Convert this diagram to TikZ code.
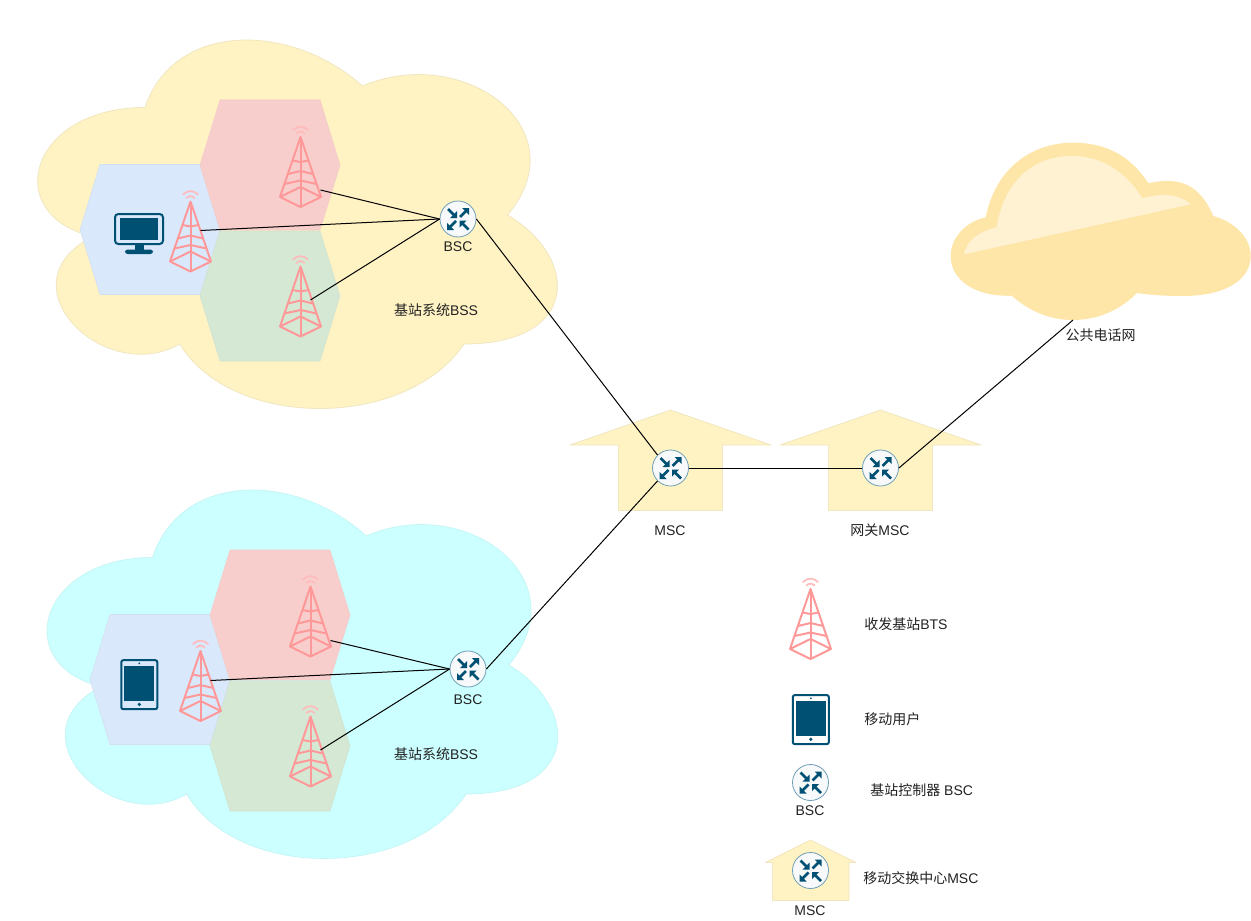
\documentclass[tikz,border=0pt]{standalone}
\usepackage{fontspec}
\setmainfont{Liberation Sans}
\newfontfamily\cjk{Noto Sans CJK SC}
\definecolor{cloudY}{HTML}{FFF3C4}
\definecolor{cloudYs}{HTML}{F0E7C0}
\definecolor{cloudC}{HTML}{CCFFFF}
\definecolor{cloudCs}{HTML}{C6F6F6}
\definecolor{hexP}{HTML}{F8CECC}
\definecolor{hexG}{HTML}{D5E8D4}
\definecolor{hexB}{HTML}{DAE8FC}
\definecolor{towerC}{HTML}{FF9999}
\definecolor{towerA}{HTML}{FFBBBB}
\definecolor{iconC}{HTML}{005073}
\definecolor{routerS}{HTML}{6F9FB5}
\definecolor{routerF}{HTML}{F7F9FB}
\definecolor{sunO}{HTML}{FEE6A9}
\definecolor{sunI}{HTML}{FFF2D3}
\definecolor{txt}{HTML}{222222}
\tikzset{
  bsscloud/.style={line width=0.6pt},
  hexcell/.style={line width=0.4pt},
  houseshape/.style={fill=cloudY,draw=cloudYs,line width=0.6pt,line join=bevel},
  towerline/.style={draw=towerC,line width=1.5pt,line join=round},
  wire/.style={draw=black,line width=0.75pt},
  routernode/.style={circle,minimum size=27pt,inner sep=0pt,draw=routerS,fill=routerF,line width=0.6pt},
  lbl/.style={text=txt,font=\fontsize{10.5}{12}\selectfont,inner sep=0pt},
  btstower/.pic={
    \draw[towerline] (-20.5,60) -- (0,0) -- (20.5,60) -- (0,70) -- cycle;
    \draw[towerline] (0,0) -- (0,70);
    \draw[towerline] (-20.5,60) -- (0,50) -- (20.5,60);
    \draw[towerline] (-8,23.5) -- (0,25) -- (8,23.5);
    \draw[towerline] (-12.6,37) -- (0,34) -- (12.6,37);
    \draw[towerline] (-16,47) -- (0,43.5) -- (16,47);
    \draw[draw=towerA,line width=1.3pt,line cap=round] (-7.5,-7) .. controls (-3,-11.5) and (3,-11.5) .. (7.5,-7);
    \draw[draw=towerA,line width=1.3pt,line cap=round] (-4,-3.5) .. controls (-1.5,-6) and (1.5,-6) .. (4,-3.5);
  },
  routerarrows/.pic={
    \draw[iconC,line width=1.9pt] (-10,-10) -- (-4,-4);
    \fill[iconC] (-1,-1) -- (-8,-1) -- (-1,-8) -- cycle;
    \draw[iconC,line width=1.9pt] (2,-2) -- (8,-8);
    \fill[iconC] (11,-11) -- (4,-11) -- (11,-4) -- cycle;
    \draw[iconC,line width=1.9pt] (-2,2) -- (-8,8);
    \fill[iconC] (-11,11) -- (-4,11) -- (-11,4) -- cycle;
    \draw[iconC,line width=1.9pt] (10.5,10.5) -- (4.5,4.5);
    \fill[iconC] (1.5,1.5) -- (8.5,1.5) -- (1.5,8.5) -- cycle;
  },
  tableticon/.pic={
    \draw[iconC,line width=1.5pt,rounded corners=1.5pt] (-18,-24.5) rectangle (18,24.5);
    \fill[iconC] (-15,-18.5) rectangle (15,16);
    \fill[iconC] (0,-21.3) circle (1);
    \fill[iconC] (0,19.7) circle (1.8);
  },
  screenicon/.pic={
    \draw[iconC,line width=1.5pt,rounded corners=2.5pt] (-24,-15) rectangle (24,15);
    \fill[iconC] (-19.5,-11) rectangle (19,10.5);
    \fill[iconC] (-4.5,15) rectangle (4.5,21);
    \fill[iconC,rounded corners=2pt] (-14,20.5) rectangle (14,25);
  }
}
\newcommand{\cloudpath}{(0.25,0.25) .. controls (0.05,0.25) and (0,0.5) .. (0.16,0.55)
  .. controls (0,0.66) and (0.18,0.9) .. (0.31,0.8)
  .. controls (0.4,1) and (0.7,1) .. (0.8,0.8)
  .. controls (1,0.8) and (1,0.6) .. (0.875,0.5)
  .. controls (1,0.3) and (0.8,0.1) .. (0.625,0.2)
  .. controls (0.5,0.05) and (0.3,0.05) .. (0.25,0.25) -- cycle}
\newcommand{\hexpath}{(0,65) -- (20,0) -- (120,0) -- (140,65) -- (120,130) -- (20,130) -- cycle}
\begin{document}
\begin{tikzpicture}[x=0.75pt,y=-0.75pt]
\useasboundingbox (0,0) rectangle (1251,920);
\fill[white] (0,0) rectangle (1251,920);
% BSS clouds
\draw[bsscloud,fill=cloudY,draw=cloudYs,shift={(0,0)},xscale=580,yscale=430] \cloudpath;
\draw[bsscloud,fill=cloudC,draw=cloudCs,shift={(10,450)},xscale=570,yscale=430] \cloudpath;
% hexagons, cloud 1
\draw[hexcell,fill=hexB,draw=hexB!96!black,shift={(80,164.5)}] \hexpath;
\draw[hexcell,fill=hexP,draw=hexP!98!black,shift={(200,100)}] \hexpath;
\draw[hexcell,fill=hexG,draw=hexG!98!black,shift={(200,231)}] \hexpath;
% hexagons, cloud 2
\draw[hexcell,fill=hexB,draw=hexB!96!black,shift={(90,614.5)}] \hexpath;
\draw[hexcell,fill=hexP,draw=hexP!98!black,shift={(210,550)}] \hexpath;
\draw[hexcell,fill=hexG,draw=hexG!98!black,shift={(210,681)}] \hexpath;
% houses
\draw[houseshape] (670.5,410) -- (771,445) -- (722.5,445) -- (722.5,510.5) -- (618.5,510.5) -- (618.5,445) -- (570,445) -- cycle;
\draw[houseshape] (880.5,410) -- (981,445) -- (932.5,445) -- (932.5,510.5) -- (828.5,510.5) -- (828.5,445) -- (780,445) -- cycle;
\draw[houseshape] (810.5,840) -- (856,862.5) -- (849,862.5) -- (849,900.5) -- (772.5,900.5) -- (772.5,862.5) -- (765.5,862.5) -- cycle;
% telephone cloud
\fill[sunO] (985.7,217.3) .. controls (995,170) and (1030,142.7) .. (1073.3,142.7)
 .. controls (1105,142.7) and (1130,155) .. (1148.3,183.3)
 .. controls (1180,176) and (1200,185) .. (1213.3,216)
 .. controls (1235,222) and (1250.7,238) .. (1250.7,256)
 .. controls (1250.7,280) and (1225,296) .. (1183,296)
 .. controls (1165,296) and (1150,295) .. (1137,293)
 .. controls (1120,310) and (1098,320) .. (1073,320)
 .. controls (1048,320) and (1028,310) .. (1011.7,295.7)
 .. controls (975,297) and (950.7,280) .. (950.7,256)
 .. controls (950.7,238) and (965,222) .. (985.7,217.3) -- cycle;
\fill[sunI] (996.7,227.3) .. controls (1003,185) and (1030,156) .. (1071.7,156)
 .. controls (1100,156) and (1125,170) .. (1142.3,198.3)
 .. controls (1165,192) and (1180,195) .. (1190.7,204.3)
 -- (964,254.3) .. controls (967,240) and (978,232) .. (996.7,227.3) -- cycle;
% towers
\pic at (300.5,137) {btstower};
\pic at (190.5,201.5) {btstower};
\pic at (300.5,266.5) {btstower};
\pic at (310.5,586.5) {btstower};
\pic at (200.5,651) {btstower};
\pic at (310.5,716.5) {btstower};
\pic at (810.5,589) {btstower};
% user icons
\pic at (139,229) {screenicon};
\pic at (139.3,684.7) {tableticon};
\pic at (810.8,719.6) {tableticon};
% connector ends
\coordinate (pinkA) at (320.5,190);
\coordinate (blueA) at (200.5,230.5);
\coordinate (greenA) at (310.5,300);
\coordinate (pinkB) at (330.5,640.5);
\coordinate (blueB) at (210.5,680.5);
\coordinate (greenB) at (320.5,750);
\coordinate (pstn) at (1073,320);
% routers
\node[routernode] (bscA) at (458,219) {};
\node[routernode] (bscB) at (468,669) {};
\node[routernode] (msc) at (670.5,468) {};
\node[routernode] (gmsc) at (880.5,468) {};
\node[routernode] (bscL) at (810.5,782.5) {};
\node[routernode] (mscL) at (810.5,870.5) {};
\foreach \r in {bscA,bscB,msc,gmsc,bscL,mscL} \pic at (\r) {routerarrows};
% connectors
\draw[wire] (pinkA) -- (bscA.west);
\draw[wire] (blueA) -- (bscA.west);
\draw[wire] (greenA) -- (bscA.west);
\draw[wire] (pinkB) -- (bscB.west);
\draw[wire] (blueB) -- (bscB.west);
\draw[wire] (greenB) -- (bscB.west);
\draw[wire] (bscA.east) -- (msc.north west);
\draw[wire] (bscB.east) -- (msc.south west);
\draw[wire] (msc.east) -- (gmsc.west);
\draw[wire] (gmsc.east) -- (pstn);
% labels
\node[lbl] (t1) at (436,310) {{\cjk 基站系统}BSS};
\node[lbl] (t2) at (436,754) {{\cjk 基站系统}BSS};
\node[lbl] (t3) at (458,246.5) {BSC};
\node[lbl] (t4) at (468,699.5) {BSC};
\node[lbl] (t5) at (670,530.5) {MSC};
\node[lbl] (t6) at (880,530.5) {{\cjk 网关}MSC};
\node[lbl] (t7) at (1100.5,335) {\cjk 公共电话网};
\node[lbl,anchor=west] (t8) at (864,624) {{\cjk 收发基站}BTS};
\node[lbl,anchor=west] (t9) at (864,719) {\cjk 移动用户};
\node[lbl,anchor=west] (t10) at (870,790) {{\cjk 基站控制器} BSC};
\node[lbl] (t11) at (810,810.5) {BSC};
\node[lbl,anchor=west] (t12) at (863,878) {{\cjk 移动交换中心}MSC};
\node[lbl] (t13) at (810,910.5) {MSC};
\end{tikzpicture}
\end{document}
